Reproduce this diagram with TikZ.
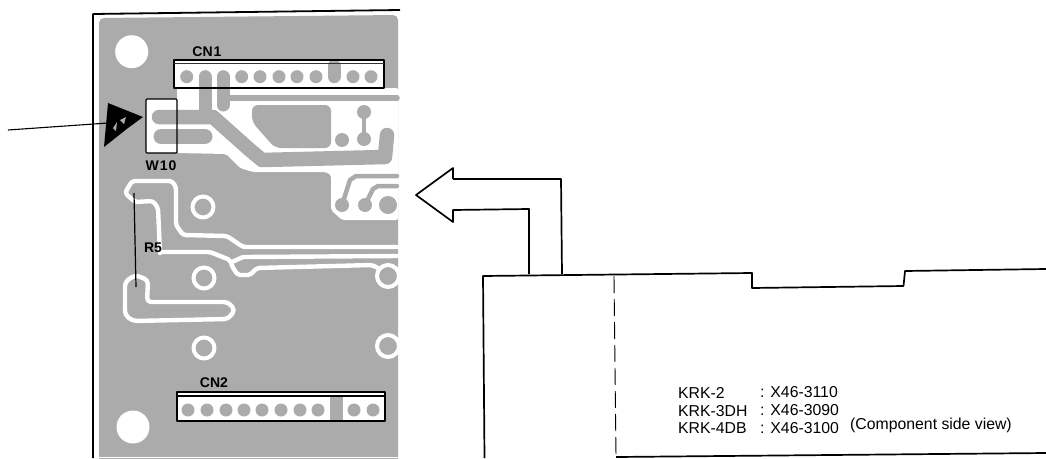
\documentclass[tikz,border=0pt]{standalone}
\usepackage{fontspec}
\setmainfont{Liberation Sans}
\usetikzlibrary{positioning}
\definecolor{pcbgray}{gray}{0.67}
\tikzset{
  boardlabel/.style={font=\fontsize{14}{14}\selectfont\bfseries, inner sep=0pt},
  cardlabel/.style={font=\fontsize{15.8}{15.8}\selectfont, inner sep=0pt, anchor=west},
  outline/.style={line width=1.7pt, line join=round},
  whitetrace/.style={white, line width=4.4pt, line join=round, line cap=round},
  graytrace/.style={pcbgray, line join=round, line cap=round}
}
\begin{document}
\begin{tikzpicture}[x=1pt,y=-1pt]
\useasboundingbox (0,0) rectangle (1046,458);

\fill[pcbgray, rounded corners=5pt] (99,18) -- (398,15) -- (398,470) -- (99,470) -- cycle;
\fill[white] (0,456.5) rectangle (400,458);
\fill[white, rounded corners=2pt] (177,88) -- (398,88) -- (398,220) -- (342,220) -- (331,210) -- (331,175) -- (326,172) -- (253,172) -- (240,168) -- (226,154) -- (177,153) -- cycle;
\fill[white] (131.7,51.7) circle[radius=16.5pt];
\fill[white] (133,427) circle[radius=16.5pt];

\fill[white] (146,99) rectangle (177,153);
\fill[white] (174,60) rectangle (384,88);
\fill[white] (177,392) rectangle (385,421);

\draw[graytrace, line width=13pt] (205,76.7) -- (205,112);
\draw[graytrace, line width=13pt] (223,76.7) -- (223,105);
\draw[graytrace, line width=5.5pt] (223,98) -- (397,98);
\draw[graytrace, line width=13pt] (334,66) -- (334,76.7);
\draw[graytrace, line width=14.5pt] (159,117) -- (213,117) -- (250,150) -- (262,160) -- (385,157) -- (387,135);
\draw[graytrace, line width=15pt] (161,136.5) -- (205,136.5);
\fill[pcbgray, rounded corners=6pt] (252,105) -- (331,105) -- (331,148) -- (275,148) -- (252,122) -- cycle;
\fill[pcbgray] (342,140) circle[radius=7pt];
\fill[pcbgray] (364,112) circle[radius=7pt];
\fill[pcbgray] (364,139) circle[radius=7pt];
\draw[graytrace, line width=4pt] (364,112) -- (364,139);
\fill[pcbgray] (342,205) circle[radius=7pt];
\draw[graytrace, line width=4.5pt] (342,205) -- (350,180) -- (356,176) -- (397,176);
\fill[pcbgray] (365,205) circle[radius=7pt];
\draw[graytrace, line width=4.5pt] (365,205) -- (373,189) -- (378,186) -- (397,186);
\fill[pcbgray] (388,205) circle[radius=9pt];

\fill[pcbgray] (186.7,76.7) circle[radius=6.5pt];
\fill[pcbgray] (241.7,76.7) circle[radius=6.5pt];
\fill[pcbgray] (260,76.7) circle[radius=6.5pt];
\fill[pcbgray] (279,76.7) circle[radius=6.5pt];
\fill[pcbgray] (297,76.7) circle[radius=6.5pt];
\fill[pcbgray] (316,76.7) circle[radius=6.5pt];
\fill[pcbgray] (353,76.7) circle[radius=6.5pt];
\fill[pcbgray] (371,76.7) circle[radius=6.5pt];

\fill[pcbgray] (188,410) circle[radius=6.5pt];
\fill[pcbgray] (207,410) circle[radius=6.5pt];
\fill[pcbgray] (226,410) circle[radius=6.5pt];
\fill[pcbgray] (244,410) circle[radius=6.5pt];
\fill[pcbgray] (262,410) circle[radius=6.5pt];
\fill[pcbgray] (281,410) circle[radius=6.5pt];
\fill[pcbgray] (300,410) circle[radius=6.5pt];
\fill[pcbgray] (318,410) circle[radius=6.5pt];
\fill[pcbgray] (330,397) rectangle (343,420);
\fill[pcbgray] (354,410) circle[radius=6.5pt];
\fill[pcbgray] (373,410) circle[radius=6.5pt];

\draw[whitetrace, rounded corners=3pt] (160,253) -- (158,208) -- (153,201) -- (135,202) -- (125,193) -- (132,181) -- (172,181) -- (176,187) -- (176,225) -- (183,235) -- (227,236) -- (243,247) -- (398,247);
\draw[whitetrace, rounded corners=2pt] (160,252) -- (210,252) -- (230,260) -- (233,268) -- (238,275) -- (250,275) -- (257,268) -- (372,265) -- (378,268);
\draw[whitetrace, rounded corners=1pt] (232,262) -- (243,257) -- (398,256);
\draw[whitetrace, rounded corners=4pt] (135,275) -- (148,280) -- (147,302) -- (228,302) -- (235,310) -- (228,319) -- (133,321) -- (125,315) -- (125,282) -- cycle;
\draw[white, line width=4pt] (203,207) circle[radius=10.5pt];
\draw[white, line width=4pt] (204,278) circle[radius=10.5pt];
\draw[white, line width=4pt] (204,348) circle[radius=10.5pt];
\draw[white, line width=4pt] (388,276) circle[radius=11pt];
\draw[white, line width=4pt] (388,346) circle[radius=11pt];

\draw[outline, line width=1.8pt] (93,458) -- (93,14) -- (400,10);
\draw[outline, line width=1.2pt, rounded corners=1pt] (146,99) rectangle (177,153);
\draw[outline] (174,60) rectangle (384,88);
\draw[black!80, line width=1pt] (174,63) -- (384,63);
\draw[outline] (177,392) rectangle (385,421);
\draw[black, line width=2pt] (177,396) -- (385,396);

\node[boardlabel] (cnone) at (207,52) {CN\kern1pt 1};
\node[boardlabel] (cntwo) at (214,383) {CN2};
\node[boardlabel] (wten) at (161,166) {W\kern1pt 1\kern1pt 0};
\node[boardlabel] (rfive) at (153,248) {R5};

\coordinate (rtop) at (134,193);
\coordinate (rbot) at (136,287);
\draw[line width=1.2pt] (rtop) -- (rbot);

\coordinate (lead) at (8,130);
\coordinate (tip) at (108,123);
\draw[line width=1.1pt] (lead) -- (tip);
\fill[black] (108,103) -- (143,117) -- (128,128) -- (104,147) -- cycle;
\fill[pcbgray] (113,128) -- (117,122) -- (116,131) -- cycle;
\fill[pcbgray] (120,120) -- (126,117) -- (124,124) -- cycle;

\draw[outline] (453,179) -- (561,179) -- (562,274);
\draw[outline] (529,274) -- (529,209) -- (453,210) -- (453,222) -- (416,195) -- (453,168) -- (453,179);

\draw[outline] (484.5,458) -- (483,276) -- (752,273) -- (752,288) -- (903.5,286) -- (905,271) -- (1046,269);
\draw[outline] (616,457) -- (1046,453);
\draw[line width=0.9pt, dash pattern=on 17pt off 6pt] (614,276) -- (616,457);

\node[cardlabel] (krktwo) at (678,393) {KRK-2};
\node[cardlabel] (krkthree) at (678,411) {KRK-3DH};
\node[cardlabel] (krkfour) at (678,428) {KRK-4DB};
\node[cardlabel] (parttwo) at (760,392.5) {: X46-3110};
\node[cardlabel] (partthree) at (760,410.5) {: X46-3090};
\node[cardlabel] (partfour) at (760,428) {: X46-3100};
\node[cardlabel] (sideview) at (850,425) {(Component side view)};
\end{tikzpicture}
\end{document}
